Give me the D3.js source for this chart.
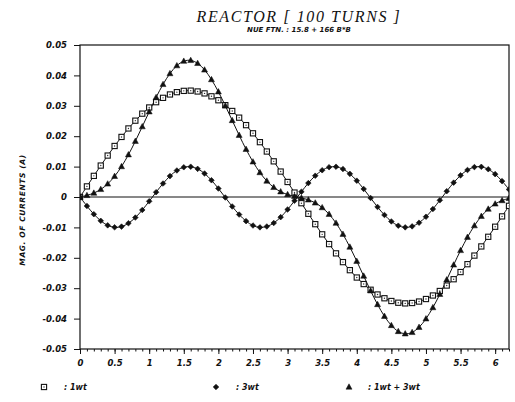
<!DOCTYPE html>
<html><head><meta charset="utf-8">
<script src="https://cdn.jsdelivr.net/npm/d3@7"></script>
<style>
body{margin:0;background:#fff;}
svg text{fill:#111;}
</style></head>
<body><svg id="c" width="515" height="402"></svg>
<script>
// wt values (rad)
const wt = [0,0.1,0.2,0.3,0.4,0.5,0.6,0.7,0.8,0.9,1.0,1.1,1.2,1.3,1.4,1.5,1.6,1.7,1.8,1.9,2.0,2.1,2.2,2.3,2.4,2.5,2.6,2.7,2.8,2.9,3.0,3.1,3.2,3.3,3.4,3.5,3.6,3.7,3.8,3.9,4.0,4.1,4.2,4.3,4.4,4.5,4.6,4.7,4.8,4.9,5.0,5.1,5.2,5.3,5.4,5.5,5.6,5.7,5.8,5.9,6.0,6.1,6.2];
// currents (A)
const i1wt = [0,0.00349,0.00695,0.01034,0.01363,0.01678,0.01976,0.02255,0.02511,0.02742,0.02945,0.03119,0.03262,0.03373,0.03449,0.03491,0.03499,0.03471,0.03408,0.03312,0.03183,0.03021,0.02830,0.02610,0.02364,0.02095,0.01804,0.01496,0.01173,0.00837,0.00494,0.00146,-0.00204,-0.00552,-0.00894,-0.01228,-0.01549,-0.01854,-0.02142,-0.02407,-0.02649,-0.02864,-0.03051,-0.03207,-0.03331,-0.03421,-0.03478,-0.03500,-0.03487,-0.03439,-0.03356,-0.03240,-0.03092,-0.02913,-0.02705,-0.02469,-0.02210,-0.01927,-0.01626,-0.01309,-0.00978,-0.00638,-0.00291];
const i3wt = [0,-0.00296,-0.00565,-0.00783,-0.00932,-0.00997,-0.00974,-0.00863,-0.00676,-0.00427,-0.00141,0.00158,0.00443,0.00688,0.00872,0.00978,0.00996,0.00926,0.00773,0.00551,0.00279,-0.00017,-0.00312,-0.00578,-0.00794,-0.00938,-0.00999,-0.00970,-0.00855,-0.00663,-0.00412,-0.00125,0.00174,0.00458,0.00700,0.00880,0.00981,0.00995,0.00919,0.00762,0.00537,0.00264,-0.00034,-0.00328,-0.00592,-0.00804,-0.00944,-0.00999,-0.00966,-0.00846,-0.00650,-0.00397,-0.00108,0.00191,0.00472,0.00712,0.00888,0.00984,0.00993,0.00913,0.00751,0.00522,0.00248];
const iSum = [0,0.00053,0.00130,0.00251,0.00431,0.00681,0.01002,0.01392,0.01835,0.02315,0.02804,0.03277,0.03705,0.04061,0.04321,0.04469,0.04495,0.04397,0.04181,0.03863,0.03462,0.03004,0.02518,0.02032,0.01570,0.01157,0.00805,0.00526,0.00318,0.00174,0.00082,0.00021,-0.00030,-0.00094,-0.00194,-0.00348,-0.00568,-0.00859,-0.01223,-0.01645,-0.02112,-0.02600,-0.03085,-0.03535,-0.03923,-0.04225,-0.04422,-0.04499,-0.04453,-0.04285,-0.04006,-0.03637,-0.03200,-0.02722,-0.02233,-0.01757,-0.01322,-0.00943,-0.00633,-0.00396,-0.00227,-0.00116,-0.00043];
const xTicks = [0,0.5,1,1.5,2,2.5,3,3.5,4,4.5,5,5.5,6];
const xTickLabels = ["0","0.5","1","1.5","2","2.5","3","3.5","4","4.5","5","5.5","6"];
const yTicks = [-0.05,-0.04,-0.03,-0.02,-0.01,0,0.01,0.02,0.03,0.04,0.05];
const yTickLabels = ["-0.05","-0.04","-0.03","-0.02","-0.01","0","0.01","0.02","0.03","0.04","0.05"];
const title = "REACTOR [ 100 TURNS ]";
const subtitle = "NUE FTN. : 15.8 + 166 B*B";
const yLabel = "MAG. OF CURRENTS (A)";
const legendLabels = [": 1wt", ": 3wt", ": 1wt + 3wt"];

const svg = d3.select("#c");
const L = 80, R = 509, T = 45, B = 349;
const x = d3.scaleLinear().domain([0, 6.2]).range([L, R]);
const y = d3.scaleLinear().domain([-0.05, 0.05]).range([B, T]);
const tickFont = "bold italic 8.5px 'DejaVu Sans'";

// frame
svg.append("rect").attr("x", L).attr("y", T).attr("width", R - L).attr("height", B - T)
  .attr("fill", "none").attr("stroke", "#111").attr("stroke-width", 1.2);
// zero line
svg.append("line").attr("x1", L).attr("x2", R).attr("y1", y(0)).attr("y2", y(0))
  .attr("stroke", "#111").attr("stroke-width", 1);

// x axis
const xAxis = d3.axisBottom(x).tickValues(xTicks).tickSize(5)
  .tickFormat((d, i) => xTickLabels[i]).tickPadding(6);
const gx = svg.append("g").attr("transform", `translate(0,${B})`).call(xAxis);
const xMinor = d3.axisBottom(x).tickValues(d3.range(0, 63).map(k => k / 10)).tickSize(2.5).tickFormat("");
svg.append("g").attr("transform", `translate(0,${B})`).call(xMinor)
  .call(g => g.select(".domain").remove());
gx.select(".domain").remove();
svg.selectAll("g .tick line").attr("stroke", "#111");
gx.selectAll("text").style("font", tickFont).attr("fill", "#111");

// y axis
const yAxis = d3.axisLeft(y).tickValues(yTicks).tickSize(6)
  .tickFormat((d, i) => yTickLabels[i]).tickPadding(7);
const gy = svg.append("g").attr("transform", `translate(${L},0)`).call(yAxis);
gy.select(".domain").remove();
gy.selectAll("line").attr("stroke", "#111");
gy.selectAll("text").style("font", tickFont).attr("fill", "#111");

// titles
svg.append("text").attr("x", 299).attr("y", 22).attr("text-anchor", "middle")
  .style("font", "italic 16px 'Liberation Serif'").style("letter-spacing", "1.6px").text(title);
svg.append("text").attr("x", 299).attr("y", 32).attr("text-anchor", "middle")
  .style("font", "bold italic 7px 'DejaVu Sans'").text(subtitle);
svg.append("text").attr("transform", `translate(25,210) rotate(-90)`)
  .attr("text-anchor", "middle").style("font", "bold italic 7.5px 'DejaVu Sans'")
  .style("letter-spacing", "0.6px").text(yLabel);

// series
const series = [
  {v: i1wt, shape: "square"},
  {v: i3wt, shape: "diamond"},
  {v: iSum, shape: "triangle"}
];
const line = d3.line().x((d, i) => x(wt[i])).y(d => y(d)).curve(d3.curveCatmullRom);
svg.append("clipPath").attr("id", "pc").append("rect")
  .attr("x", L).attr("y", T).attr("width", R - L).attr("height", B - T);
const plot = svg.append("g").attr("clip-path", "url(#pc)");

function drawMarker(g, shape, cx, cy) {
  if (shape === "square") {
    g.append("rect").attr("x", cx - 2.6).attr("y", cy - 2.6).attr("width", 5.2).attr("height", 5.2)
      .attr("fill", "#fff").attr("stroke", "#111").attr("stroke-width", 1.1);
    g.append("circle").attr("cx", cx).attr("cy", cy).attr("r", 0.7).attr("fill", "#333");
  } else if (shape === "diamond") {
    g.append("path").attr("d", `M${cx},${cy - 2.8}L${cx + 2.8},${cy}L${cx},${cy + 2.8}L${cx - 2.8},${cy}Z`)
      .attr("fill", "#111").attr("stroke", "#111").attr("stroke-width", 0.6);
  } else {
    g.append("path").attr("d", `M${cx},${cy - 3.2}L${cx + 3},${cy + 2.2}L${cx - 3},${cy + 2.2}Z`)
      .attr("fill", "#111").attr("stroke", "#111").attr("stroke-width", 0.5);
  }
}

series.forEach(s => {
  plot.append("path").datum(s.v).attr("d", line).attr("fill", "none")
    .attr("stroke", "#111").attr("stroke-width", 1);
});
series.forEach(s => {
  const g = plot.append("g");
  s.v.forEach((d, i) => drawMarker(g, s.shape, x(wt[i]), y(d)));
});

// legend
const legX = [44, 216, 349];
const legTX = [64, 236, 368];
const lg = svg.append("g");
series.forEach((s, k) => {
  drawMarker(lg, s.shape, legX[k], 387);
  lg.append("text").attr("x", legTX[k]).attr("y", 390)
    .style("font", "bold italic 8px 'DejaVu Sans'").text(legendLabels[k]);
});
</script></body></html>
